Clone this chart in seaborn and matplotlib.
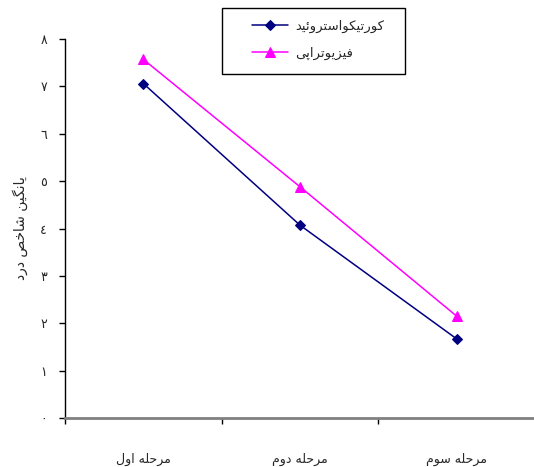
import numpy as np
import pandas as pd
import matplotlib
matplotlib.use("Agg")
import matplotlib.pyplot as plt
from matplotlib.patches import Rectangle
import seaborn as sns

# data
stages = ["مرحله اول", "مرحله دوم", "مرحله سوم"]
cortico = [7.06, 4.07, 1.67]
physio = [7.57, 4.88, 2.15]
series_names = ["کورتیکواستروئید", "فیزیوتراپی"]
y_label = "یانگین شاخص درد"
y_ticks = list(range(9))
y_tick_labels = ["٠", "١", "٢", "٣", "٤", "٥", "٦", "٧", "٨"]

# minimal Arabic/Persian shaping (matplotlib has no text shaping)
FORMS = {  # isolated, final, initial, medial
    "ا": ("\uFE8D", "\uFE8E", None, None),
    "ب": ("\uFE8F", "\uFE90", "\uFE91", "\uFE92"),
    "ت": ("\uFE95", "\uFE96", "\uFE97", "\uFE98"),
    "ح": ("\uFEA1", "\uFEA2", "\uFEA3", "\uFEA4"),
    "خ": ("\uFEA5", "\uFEA6", "\uFEA7", "\uFEA8"),
    "د": ("\uFEA9", "\uFEAA", None, None),
    "ر": ("\uFEAD", "\uFEAE", None, None),
    "ز": ("\uFEAF", "\uFEB0", None, None),
    "س": ("\uFEB1", "\uFEB2", "\uFEB3", "\uFEB4"),
    "ش": ("\uFEB5", "\uFEB6", "\uFEB7", "\uFEB8"),
    "ص": ("\uFEB9", "\uFEBA", "\uFEBB", "\uFEBC"),
    "ف": ("\uFED1", "\uFED2", "\uFED3", "\uFED4"),
    "ل": ("\uFEDD", "\uFEDE", "\uFEDF", "\uFEE0"),
    "م": ("\uFEE1", "\uFEE2", "\uFEE3", "\uFEE4"),
    "ن": ("\uFEE5", "\uFEE6", "\uFEE7", "\uFEE8"),
    "ه": ("\uFEE9", "\uFEEA", "\uFEEB", "\uFEEC"),
    "و": ("\uFEED", "\uFEEE", None, None),
    "ئ": ("\uFE89", "\uFE8A", "\uFE8B", "\uFE8C"),
    "پ": ("\uFB56", "\uFB57", "\uFB58", "\uFB59"),
    "ک": ("\uFB8E", "\uFB8F", "\uFB90", "\uFB91"),
    "گ": ("\uFB92", "\uFB93", "\uFB94", "\uFB95"),
    "ی": ("\uFBFC", "\uFBFD", "\uFBFE", "\uFBFF"),
}


def shape(s):
    out = []
    for i, ch in enumerate(s):
        if ch not in FORMS:
            out.append(ch); continue
        prev = s[i - 1] if i > 0 else None
        nxt = s[i + 1] if i + 1 < len(s) else None
        join_prev = prev in FORMS and FORMS[prev][2] is not None
        join_next = nxt in FORMS and FORMS[ch][2] is not None
        iso, fin, ini, med = FORMS[ch]
        if join_prev and join_next:
            out.append(med)
        elif join_prev:
            out.append(fin)
        elif join_next:
            out.append(ini)
        else:
            out.append(iso)
    return "".join(out)[::-1]


df = pd.DataFrame({
    "stage": stages * 2,
    "value": cortico + physio,
    "group": [series_names[0]] * 3 + [series_names[1]] * 3,
})

sns.set_style("white")
plt.rcParams["font.family"] = ["DejaVu Sans"]

fig = plt.figure(figsize=(5.34, 4.67), dpi=100)
ax = fig.add_axes([65 / 534, 49 / 467, 470 / 534, 379 / 467])

sns.lineplot(data=df, x="stage", y="value", hue="group", style="group",
             palette={series_names[0]: "#000080", series_names[1]: "#FF00FF"},
             markers={series_names[0]: "D", series_names[1]: "^"},
             dashes=False, lw=1.1, sort=False, ax=ax)
for line in ax.lines:
    line.set_markeredgecolor(line.get_color())
    line.set_markersize(5.5 if line.get_marker() == "D" else 7.5)

ax.set_xlim(-0.5, 2.5)
ax.set_ylim(0, 8)
ax.set_yticks(y_ticks, labels=y_tick_labels, fontsize=9)
ax.set_xticks([-0.5, 0.5, 1.5, 2.5], labels=[])
ax.set_xticks([0, 1, 2], labels=[shape(s) for s in stages], minor=True, fontsize=9)
ax.tick_params(axis="y", left=True, length=4, width=1, pad=9, color="black")
ax.tick_params(axis="x", which="major", bottom=True, length=4, width=1, color="black")
ax.tick_params(axis="x", which="minor", bottom=False, length=0, pad=25)
ax.set_xlabel("")
ax.set_ylabel(shape(y_label), fontsize=10, labelpad=9)

for side in ["top", "right"]:
    ax.spines[side].set_visible(False)
ax.spines["left"].set_color("black"); ax.spines["left"].set_linewidth(1)
ax.spines["bottom"].set_color("#808080"); ax.spines["bottom"].set_linewidth(2)

handles, labels = ax.get_legend_handles_labels()
for h in handles:
    h.set_markersize(5.5 if h.get_marker() == "D" else 7.5)
    h.set_markeredgecolor(h.get_color())
leg = ax.legend(handles, [shape(l) for l in labels], loc="upper left",
                bbox_to_anchor=(252 / 534, 1 - 20 / 467), bbox_transform=fig.transFigure,
                fontsize=9.5, frameon=False, handlelength=2.7, handletextpad=0.6,
                borderpad=0, labelspacing=1.0, borderaxespad=0)

# legend box as drawn in the reference
fig.patches.append(Rectangle((222 / 534, 1 - 74 / 467), 183 / 534, 66 / 467,
                             transform=fig.transFigure, fill=False, ec="black", lw=1))

fig.savefig("out.png", dpi=100)
